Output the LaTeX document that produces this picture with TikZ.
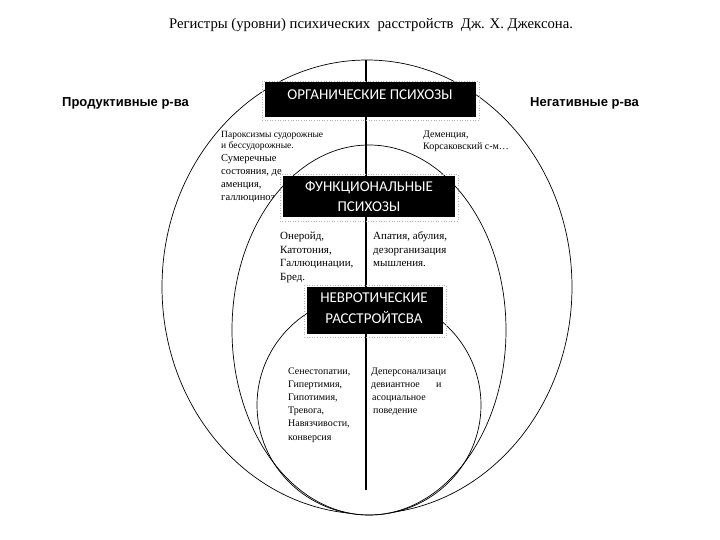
\documentclass[tikz,border=0pt]{standalone}
\usepackage{fontspec}
\setmainfont{Liberation Serif}
\newfontfamily\boxfont{Carlito}
\newfontfamily\labfont{Liberation Sans}
\begin{document}
\begin{tikzpicture}[x=1pt,y=-1pt,
  blk/.style={fill=black,draw=none,inner sep=0},
  frm/.style={draw=gray!60,dotted,line width=0.6pt},
  bxt/.style={text=white,font=\boxfont\fontsize{15}{17}\selectfont,inner sep=0},
  ln/.style={anchor=base west,inner sep=0},
  sa/.style={font=\fontsize{9.5}{11}\selectfont},
  sb/.style={font=\fontsize{10.5}{12}\selectfont},
  sc/.style={font=\fontsize{11}{13}\selectfont},
  sd/.style={font=\fontsize{10}{12}\selectfont},
  ell/.style={draw=black,line width=0.7pt},
  side/.style={font=\labfont\bfseries\fontsize{13}{15}\selectfont,anchor=west,inner sep=0}]
\useasboundingbox (0,0) rectangle (720,540);
\fill[white] (0,0) rectangle (720,540);

% title and side labels
\node[font=\fontsize{14.7}{17}\selectfont,inner sep=0] (title) at (371,25) {Регистры (уровни) психических\ \ расстройств\ \ Дж. Х. Джексона.};
\node[side] (prod) at (62,103) {Продуктивные р-ва};
\node[side] (neg) at (530,103) {Негативные р-ва};

% outer level
\draw[ell] (367,287) ellipse [x radius=205, y radius=227];

% upper texts
\node[ln,sa] (tl1) at (221,138) {Пароксизмы судорожные};
\node[ln,sa] (tl2) at (221,148.5) {и бессудорожные.};
\node[ln,sb] (tl3) at (221,161.5) {Сумеречные};
\node[ln,sb] (tl4) at (221,175) {состояния, де};
\node[ln,sb] (tl5) at (221,188) {аменция,};
\node[ln,sb] (tl6) at (221,201) {галлюциноз};
\node[ln,sd] (tr1) at (423,138) {Деменция,};
\node[ln,sd] (tr2) at (423,150) {Корсаковский с-м…};

% middle level
\draw[ell,fill=white] (369,330) ellipse [x radius=137, y radius=185];
% inner level
\draw[ell] (369,405) ellipse [x radius=112, y radius=110];

% axis
\coordinate (vtop) at (366,60);
\coordinate (vbot) at (366,490);
\draw[line width=1.7pt] (vtop) -- (vbot);

% middle texts
\node[ln,sc] (ml1) at (280,239.5) {Онеройд,};
\node[ln,sc] (ml2) at (280,253) {Катотония,};
\node[ln,sc] (ml3) at (280,266.5) {Галлюцинации,};
\node[ln,sc] (ml4) at (280,280) {Бред.};
\node[ln,sc] (mr1) at (373,239.5) {Апатия,\ абулия,};
\node[ln,sc] (mr2) at (373,253) {дезорганизация};
\node[ln,sc] (mr3) at (373,266.5) {мышления.};

% lower texts
\node[ln,sd] (ll1) at (288,374) {Сенестопатии,};
\node[ln,sd] (ll2) at (288,387.2) {Гипертимия,};
\node[ln,sd] (ll3) at (288,400.4) {Гипотимия,};
\node[ln,sd] (ll4) at (288,413.6) {Тревога,};
\node[ln,sd] (ll5) at (288,426.8) {Навязчивости,};
\node[ln,sd] (ll6) at (288,440) {конверсия};
\node[ln,sd] (lr1) at (371,374) {Деперсонализаци};
\node[ln,sd] (lr2) at (371,387.2) {\makebox[65pt][l]{девиантное}и};
\node[ln,sd] (lr3) at (372,400.4) {асоциальное};
\node[ln,sd] (lr4) at (373,413.6) {поведение};

% boxes
\draw[frm] (262,81) rectangle (479,120);
\node[blk,minimum width=211,minimum height=35] (b1) at (370.5,99.5) {};
\node[bxt] (b1t) at (370,95) {ОРГАНИЧЕСКИЕ ПСИХОЗЫ};

\draw[frm] (280,174) rectangle (458,221);
\node[blk,minimum width=172,minimum height=41] (b2) at (369,196.5) {};
\node[bxt] (b2t1) at (369,188) {ФУНКЦИОНАЛЬНЫЕ};
\node[bxt] (b2t2) at (369,207) {ПСИХОЗЫ};

\draw[frm] (304,285) rectangle (446,337);
\node[blk,minimum width=136,minimum height=47] (b3) at (375,310.5) {};
\node[bxt] (b3t1) at (374,298) {НЕВРОТИЧЕСКИЕ};
\node[bxt] (b3t2) at (374,318) {РАССТРОЙТСВА};
\end{tikzpicture}
\end{document}
